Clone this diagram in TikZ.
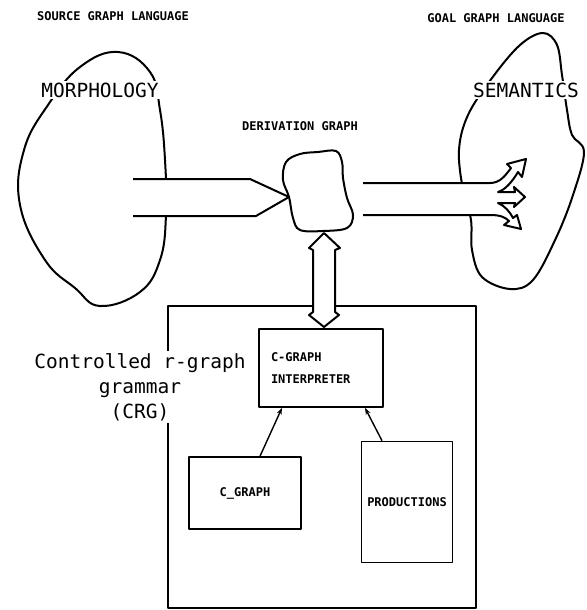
\documentclass[tikz,border=0pt]{standalone}
\usepackage{fontspec}
\newfontfamily\typefont{DejaVu Sans Mono}
\usetikzlibrary{arrows.meta}

\begin{document}
\begin{tikzpicture}[
        x=1pt, y=-1pt,
        line join=round,
        blob/.style={draw, line width=2pt},
        fatarrow/.style={draw, fill=white, line width=2pt},
        box/.style={draw, line width=1.6pt, inner sep=0pt},
        heading/.style={font=\typefont\bfseries\fontsize{12}{14}\selectfont},
        bigtext/.style={
            font=\typefont\fontsize{19.5}{25}\selectfont,
            fill=white, inner sep=2pt,
            align=center
        },
        boxtext/.style={font=\typefont\bfseries\fontsize{12}{22}\selectfont},
        link/.style={
            -{Stealth[length=7pt, width=5pt]},
            line width=1.4pt
        }
    ]

    \useasboundingbox (0,0) rectangle (586,610);

    \node[heading] (srclang) at (113,16) {SOURCE GRAPH LANGUAGE};
    \node[heading] (goallang) at (496,18) {GOAL GRAPH LANGUAGE};
    \node[heading] (derlabel) at (300,126) {DERIVATION GRAPH};

    % the three graph languages
    \draw[blob] plot[smooth cycle, tension=0.7] coordinates {
        (118,52) (150,72) (160,110) (165,160) (166,215) (160,260)
        (140,292) (100,306) (75,288) (45,260) (20,205) (24,150)
        (48,105) (80,67)};
    \draw[blob] plot[smooth cycle, tension=0.6] coordinates {
        (286,162) (300,154) (318,152) (336,151) (342,162) (343,178)
        (347,198) (353,215) (347,228) (323,231) (300,230) (293,218)
        (289,197) (283,180)};
    \draw[blob] plot[smooth cycle, tension=0.6] coordinates {
        (543,33) (557,45) (562,75) (567,110) (572,135) (584,152)
        (573,195) (556,238) (533,280) (510,289) (482,277) (472,250)
        (471,220) (463,190) (459,150) (468,115) (492,78) (520,45)};

    \coordinate (dtip) at (289,197);
    \coordinate (dbot) at (324,233);

    % fat arrows
    \path[fatarrow] (133,179) -- (250,179) -- (dtip) -- (256,216) -- (133,216);
    \path[fatarrow] (363,183) -- (490,183)
        .. controls (500,183) and (505,176) .. (511,168)
        -- (507,164) -- (526,159) -- (522,177) -- (518,172)
        .. controls (512,182) and (505,190) .. (498,192)
        -- (515,192) -- (514,187) -- (525,197) -- (514,207) -- (515,203)
        -- (498,203)
        .. controls (505,206) and (510,212) .. (513,218)
        -- (517,215) -- (521,229) -- (504,225) -- (509,221)
        .. controls (505,217) and (500,215) .. (490,215) -- (363,215);

    \node[box, minimum width=308, minimum height=302] (crg) at (322,457) {};

    \path[fatarrow] (dbot) -- (340,248) -- (335,250) -- (335,312) -- (339,315)
        -- (324,327) -- (309,315) -- (313,312) -- (313,250) -- (309,248) -- cycle;

    \node[box, boxtext, minimum width=124, minimum height=78,
        text width=100, align=left] (interp) at (321,368) {C-GRAPH\\INTERPRETER};
    \node[box, boxtext, minimum width=112, minimum height=72] (cgraph) at (245,493) {C\_GRAPH};
    \node[box, boxtext, minimum width=91, minimum height=121] (prods) at (407,502) {PRODUCTIONS};

    \draw[link] ([xshift=15]cgraph.north) -- ([xshift=-39]interp.south);
    \draw[link] ([xshift=-25]prods.north) -- ([xshift=44]interp.south);

    \node[bigtext] (morph) at (100,90) {MORPHOLOGY};
    \node[bigtext] (sem) at (526,90) {SEMANTICS};
    \node[bigtext] (crglabel) at (140,387) {Controlled r-graph\\grammar\\(CRG)};

\end{tikzpicture}
\end{document}
